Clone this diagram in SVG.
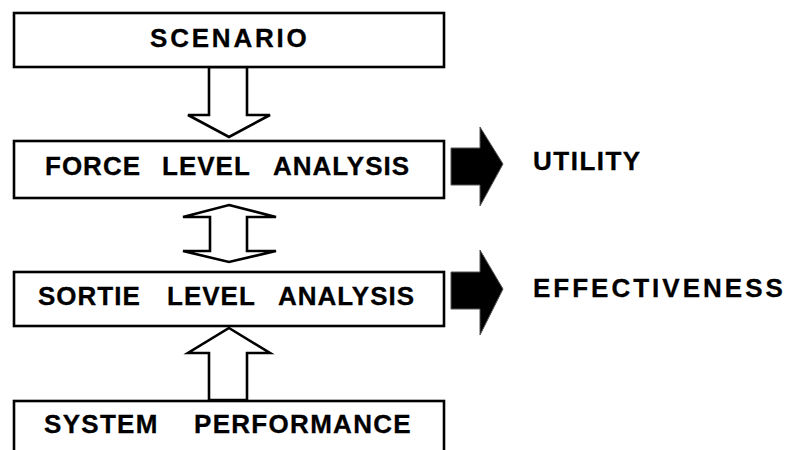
<svg xmlns="http://www.w3.org/2000/svg" width="789" height="450" viewBox="0 0 789 450">
<style>
.box{fill:#fff;stroke:#000;stroke-width:2.6}
.harrow{fill:#fff;stroke:#000;stroke-width:2.6;stroke-linejoin:miter}
.farrow{fill:#000;stroke:#555;stroke-width:1}
.t{font-family:"Liberation Sans",Arial,sans-serif;font-weight:bold;font-size:26px;fill:#000;stroke:#000;stroke-width:0.3}
</style>
<rect width="789" height="450" fill="#fff"/>
<g id="connectors">
<polygon class="harrow" points="209,67 209,115 188,115 229,137 270,115 247,115 247,67"/>
<polygon class="harrow" points="229,205 276,217 247,217 247,251 276,251 229,262 183,251 210,251 210,217 183,217"/>
<polygon class="harrow" points="229,328 270,353 247,353 247,400 209,400 209,353 188,353"/>
<polygon class="farrow" points="451,148 480,148 480,127 503,164 480,206 480,185 451,185"/>
<polygon class="farrow" points="451,272 480,272 480,250 503,289 480,335 480,309 451,309"/>
</g>
<g id="scenario">
<rect class="box" x="14" y="13" width="430" height="54"/>
<text class="t" x="150" y="47" letter-spacing="2.8">SCENARIO</text>
</g>
<g id="force">
<rect class="box" x="14" y="141" width="430" height="57"/>
<text class="t" y="175" letter-spacing="1"><tspan x="45">FORCE</tspan><tspan x="162">LEVEL</tspan><tspan x="273">ANALYSIS</tspan></text>
</g>
<g id="sortie">
<rect class="box" x="14" y="272" width="430" height="54"/>
<text class="t" y="305" letter-spacing="1"><tspan x="38">SORTIE</tspan><tspan x="167">LEVEL</tspan><tspan x="278">ANALYSIS</tspan></text>
</g>
<g id="system">
<rect class="box" x="14" y="401" width="430" height="55"/>
<text class="t" y="433" letter-spacing="1.3"><tspan x="44">SYSTEM</tspan><tspan x="194">PERFORMANCE</tspan></text>
</g>
<g id="utility">
<text class="t" x="533" y="170" letter-spacing="1.5">UTILITY</text>
</g>
<g id="effectiveness">
<text class="t" x="533" y="297" letter-spacing="3">EFFECTIVENESS</text>
</g>
</svg>
